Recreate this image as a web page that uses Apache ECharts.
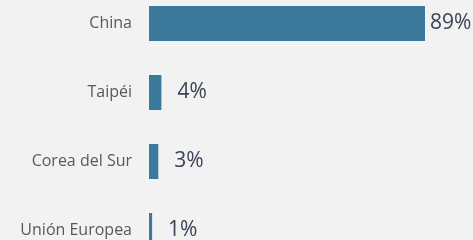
<!DOCTYPE html>
<html>
<head>
<meta charset="utf-8">
<script src="https://cdn.jsdelivr.net/npm/echarts@6/dist/echarts.min.js"></script>
<style>
  html, body { margin: 0; padding: 0; background: #f2f2f2; }
  #chart { width: 473px; height: 240px; }
</style>
</head>
<body>
<div id="chart"></div>
<script>
const categories = ['China', 'Taipéi', 'Corea del Sur', 'Unión Europea']
const values = [89, 4, 3, 1]
const labelGaps = [5, 16, 16, 16]

const chart = echarts.init(document.getElementById('chart'))
chart.setOption({
  backgroundColor: '#f2f2f2',
  animation: false,
  // last bar runs past the bottom edge, like the cropped original
  grid: { left: 149, right: 48, top: 23.5, height: 207 },
  xAxis: {
    type: 'value', min: 0, max: 89, show: false
  },
  yAxis: {
    type: 'category', data: categories, inverse: true, boundaryGap: false,
    axisLine: { show: false }, axisTick: { show: false },
    axisLabel: { color: '#595959', fontSize: 16, fontFamily: 'Open Sans', margin: 17 }
  },
  series: [{
    type: 'bar', barWidth: 35, clip: false,
    itemStyle: { color: '#3b799d' },
    data: values.map((v, i) => ({
      value: v,
      label: { distance: labelGaps[i] }
    })),
    label: {
      show: true, position: 'right', formatter: '{c}%',
      color: '#3a4456', fontSize: 21, fontFamily: 'Open Sans'
    }
  }]
})
</script>
</body>
</html>
